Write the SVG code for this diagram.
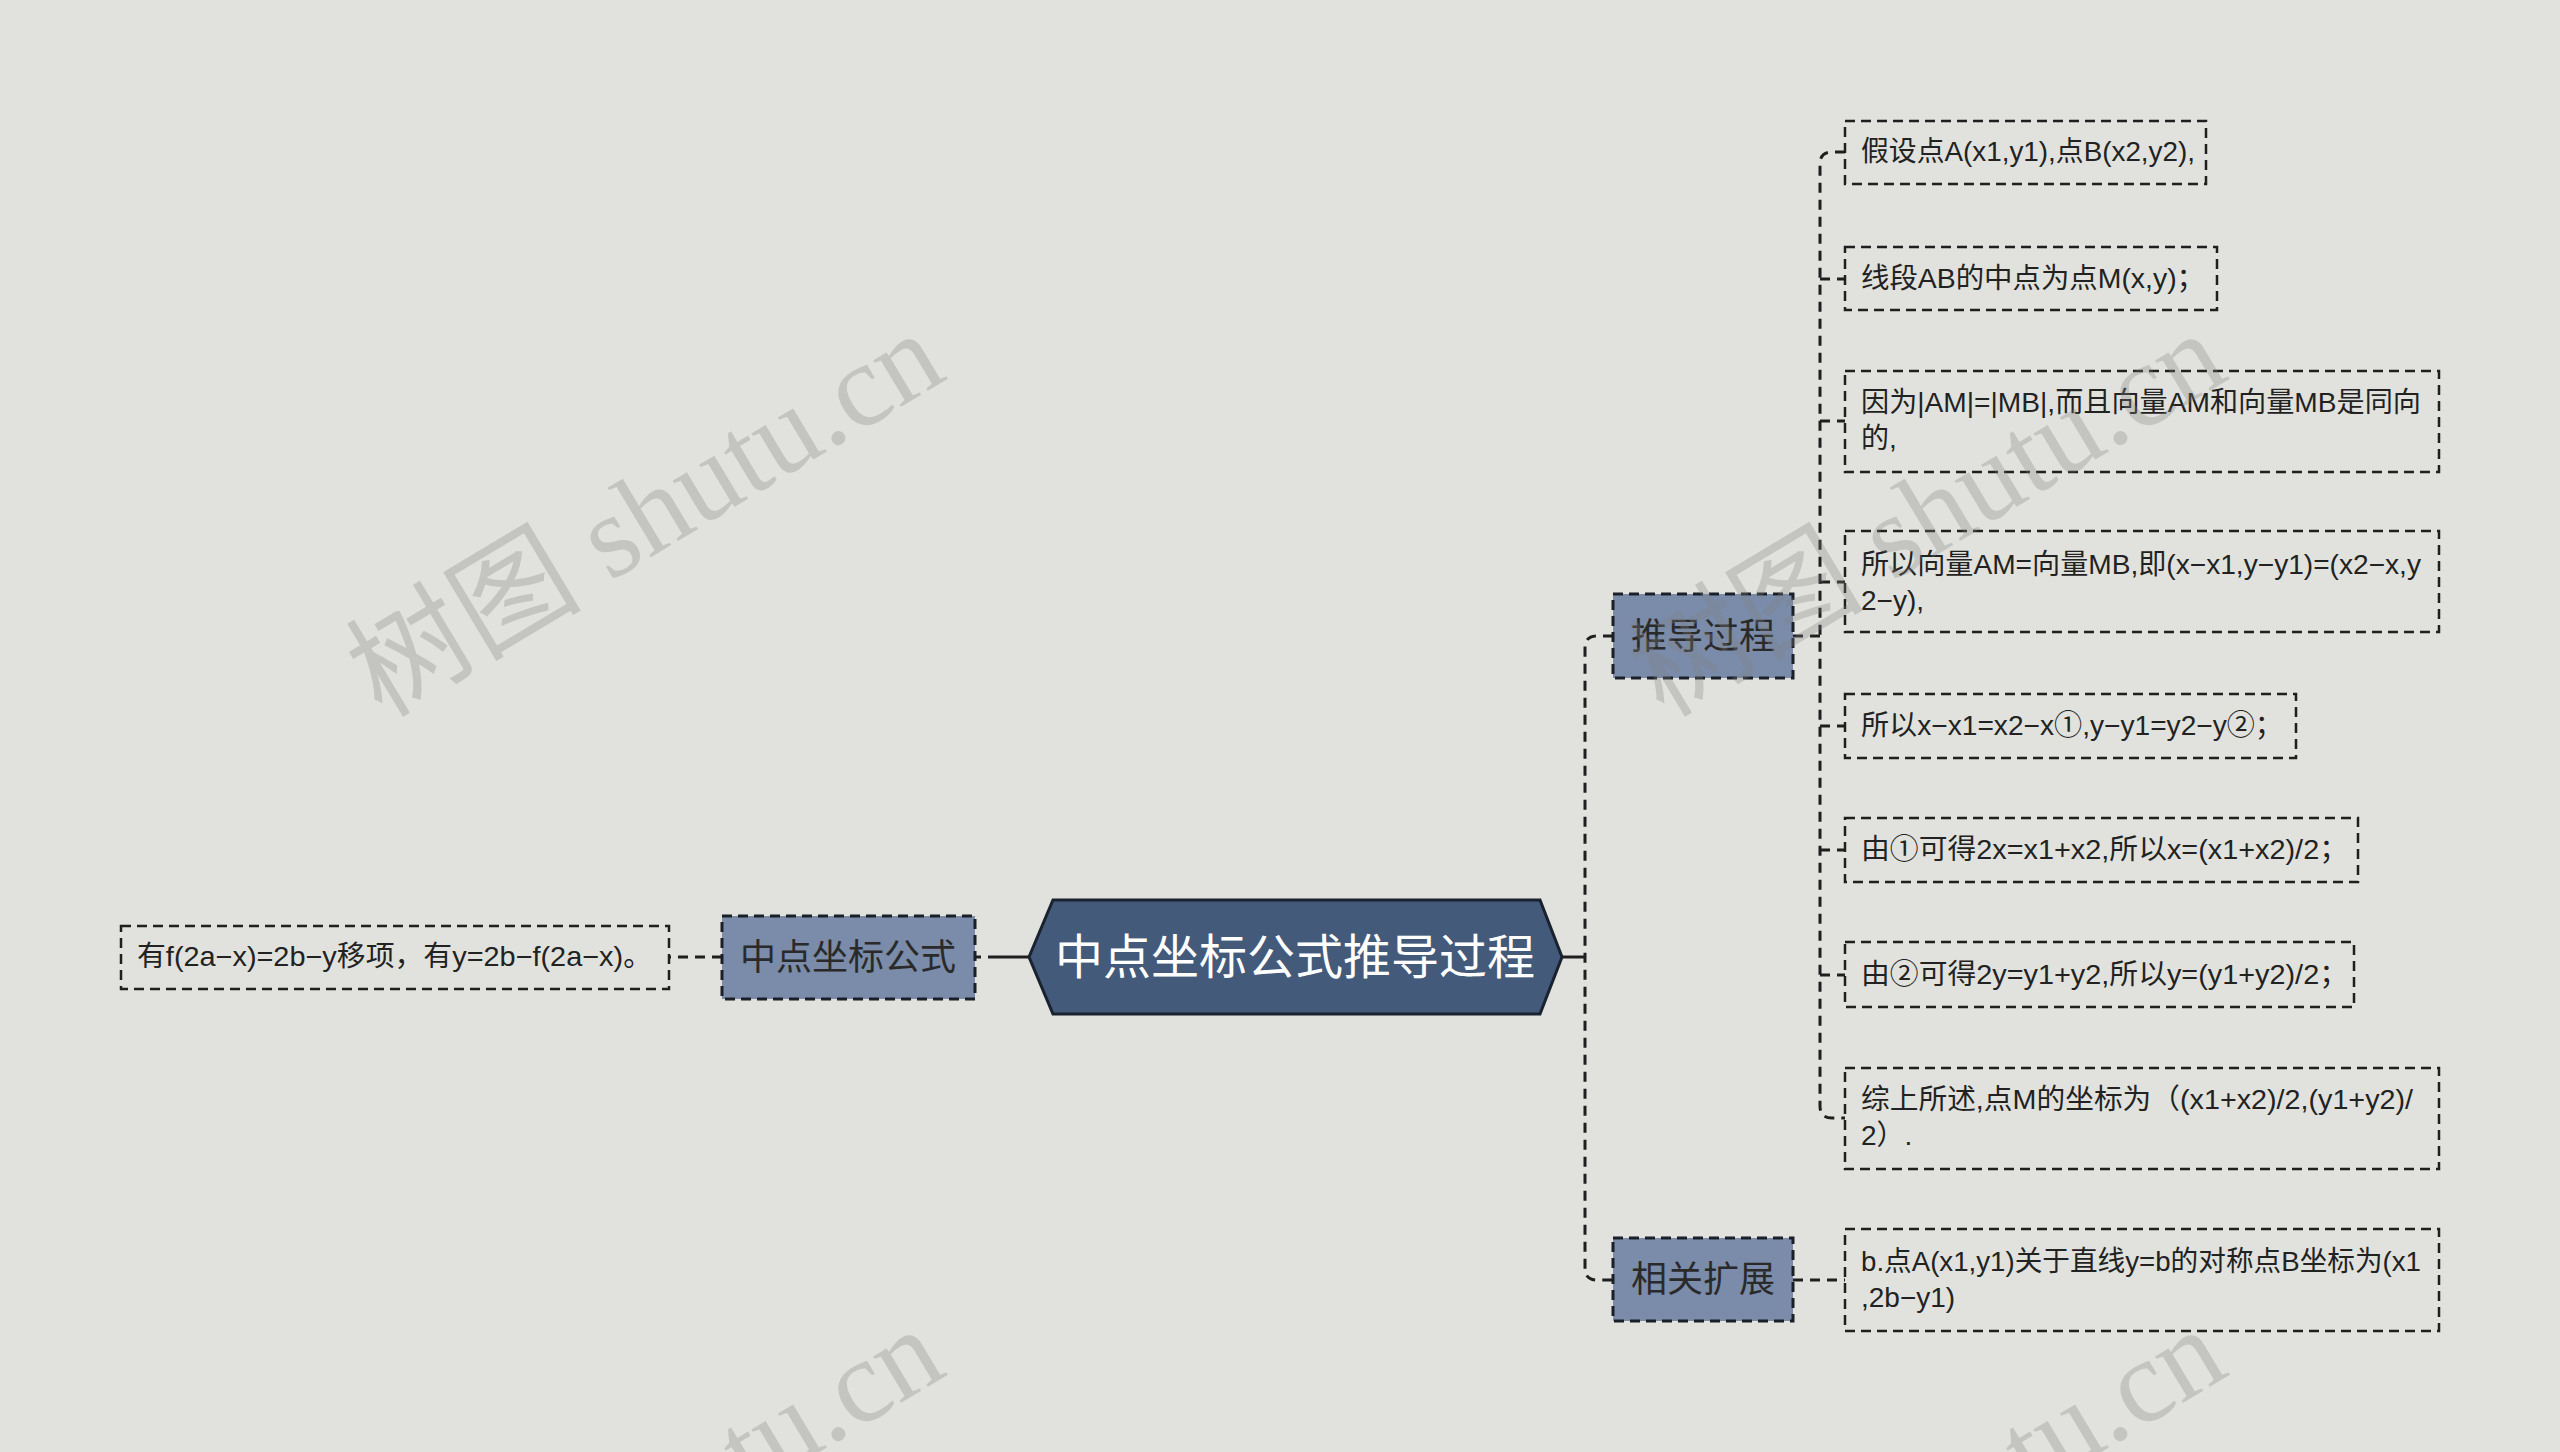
<svg xmlns="http://www.w3.org/2000/svg" width="2560" height="1452" viewBox="0 0 2560 1452">
<defs>
<style>
.bg{fill:#e1e2dd}
.leaf{fill:none;stroke:#1f1f1f;stroke-width:2.5;stroke-dasharray:10 6}
.branch{fill:#7a8ca9;stroke:#1a1f28;stroke-width:3;stroke-dasharray:10 6}
.lt{font-family:"Liberation Sans","Noto Sans CJK SC",sans-serif;font-size:28px;fill:#222}
.bt{font-family:"Noto Sans CJK SC",sans-serif;font-size:36px;fill:#2a2a2a;text-anchor:middle}
.ct{font-family:"Noto Sans CJK SC",sans-serif;font-size:48px;fill:#ffffff;text-anchor:middle}
.dash{fill:none;stroke:#1f1f1f;stroke-width:3;stroke-dasharray:10 7}
.solid{fill:none;stroke:#1f1f1f;stroke-width:3}
.wm{font-family:"Liberation Serif","Noto Sans CJK SC",serif;font-size:118px;fill:#808080;fill-opacity:0.3;text-anchor:middle}
</style>
</defs>
<rect class="bg" x="0" y="0" width="2560" height="1452"/>
<g id="connectors">
<path class="solid" d="M1562,957 H1585"/>
<path class="dash" d="M1613,636 H1597 Q1585,636 1585,648 V1268 Q1585,1280 1597,1280 H1613"/>
<path class="dash" d="M1793,636 H1820"/>
<path class="dash" d="M1845,152 H1832 Q1820,152 1820,164 V1106 Q1820,1118 1832,1118 H1845"/>
<path class="dash" d="M1820,279 H1845 M1820,421 H1845 M1820,582 H1845 M1820,726 H1845 M1820,850 H1845 M1820,975 H1845"/>
<path class="dash" d="M1793,1280 H1845"/>
<path class="solid" d="M1029,957 H998"/>
<path class="dash" d="M998,957 H975"/>
<path class="dash" d="M722,957 H669"/>
</g>
<g id="root">
<polygon points="1029,957 1053,900 1540,900 1562,957 1540,1014 1053,1014" fill="#435a7a" stroke="#1a2230" stroke-width="3"/>
<text class="ct" x="1295" y="974">中点坐标公式推导过程</text>
</g>
<g id="branch-tuidao">
<rect class="branch" x="1613" y="594" width="180" height="84"/>
<text class="bt" x="1703" y="649">推导过程</text>
</g>
<g id="branch-kuozhan">
<rect class="branch" x="1613" y="1238" width="180" height="83"/>
<text class="bt" x="1703" y="1292">相关扩展</text>
</g>
<g id="branch-gongshi">
<rect class="branch" x="722" y="916" width="253" height="83"/>
<text class="bt" x="848" y="970">中点坐标公式</text>
</g>
<g id="leaf-left">
<rect class="leaf" x="121" y="926" width="548" height="63"/>
<text class="lt" x="137" y="966" textLength="515" lengthAdjust="spacingAndGlyphs">有f(2a−x)=2b−y移项，有y=2b−f(2a−x)。</text>
</g>
<g id="leaf-1">
<rect class="leaf" x="1845" y="121" width="361" height="63"/>
<text class="lt" x="1861" y="161" textLength="334" lengthAdjust="spacingAndGlyphs">假设点A(x1,y1),点B(x2,y2),</text>
</g>
<g id="leaf-2">
<rect class="leaf" x="1845" y="247" width="372" height="63"/>
<text class="lt" x="1861" y="288" textLength="344" lengthAdjust="spacingAndGlyphs">线段AB的中点为点M(x,y)；</text>
</g>
<g id="leaf-3">
<rect class="leaf" x="1845" y="371" width="594" height="101"/>
<text class="lt" x="1861" y="412" textLength="560" lengthAdjust="spacingAndGlyphs">因为|AM|=|MB|,而且向量AM和向量MB是同向</text>
<text class="lt" x="1861" y="448">的,</text>
</g>
<g id="leaf-4">
<rect class="leaf" x="1845" y="531" width="594" height="101"/>
<text class="lt" x="1861" y="574" textLength="560" lengthAdjust="spacingAndGlyphs">所以向量AM=向量MB,即(x−x1,y−y1)=(x2−x,y</text>
<text class="lt" x="1861" y="610">2−y),</text>
</g>
<g id="leaf-5">
<rect class="leaf" x="1845" y="694" width="451" height="64"/>
<text class="lt" x="1861" y="735" textLength="422" lengthAdjust="spacingAndGlyphs">所以x−x1=x2−x①,y−y1=y2−y②；</text>
</g>
<g id="leaf-6">
<rect class="leaf" x="1845" y="818" width="513" height="64"/>
<text class="lt" x="1861" y="859" textLength="487" lengthAdjust="spacingAndGlyphs">由①可得2x=x1+x2,所以x=(x1+x2)/2；</text>
</g>
<g id="leaf-7">
<rect class="leaf" x="1845" y="942" width="509" height="65"/>
<text class="lt" x="1861" y="984" textLength="487" lengthAdjust="spacingAndGlyphs">由②可得2y=y1+y2,所以y=(y1+y2)/2；</text>
</g>
<g id="leaf-8">
<rect class="leaf" x="1845" y="1068" width="594" height="101"/>
<text class="lt" x="1861" y="1109" textLength="552" lengthAdjust="spacingAndGlyphs">综上所述,点M的坐标为（(x1+x2)/2,(y1+y2)/</text>
<text class="lt" x="1861" y="1145">2）.</text>
</g>
<g id="leaf-9">
<rect class="leaf" x="1845" y="1229" width="594" height="102"/>
<text class="lt" x="1861" y="1271" textLength="560" lengthAdjust="spacingAndGlyphs">b.点A(x1,y1)关于直线y=b的对称点B坐标为(x1</text>
<text class="lt" x="1861" y="1307">,2b−y1)</text>
</g>
<g id="watermarks">
<text class="wm" transform="translate(645,514) rotate(-31)" x="0" y="40">树图 shutu.cn</text>
<text class="wm" transform="translate(1927,514) rotate(-31)" x="0" y="40">树图 shutu.cn</text>
<text class="wm" transform="translate(645,1510) rotate(-31)" x="0" y="40">树图 shutu.cn</text>
<text class="wm" transform="translate(1927,1510) rotate(-31)" x="0" y="40">树图 shutu.cn</text>
</g>
</svg>
